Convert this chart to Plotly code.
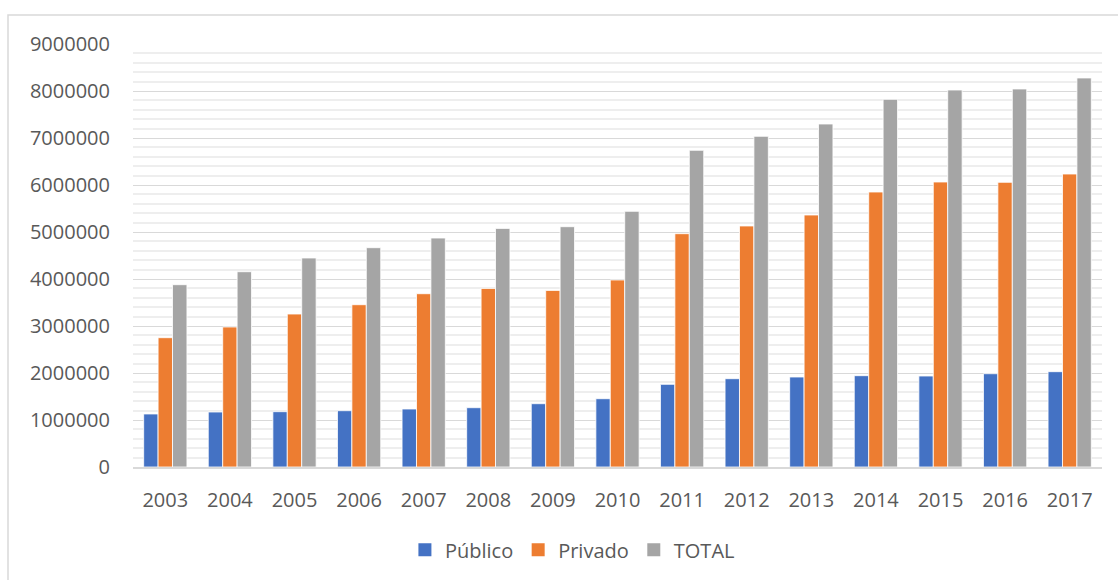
import plotly.graph_objects as go

years = ["2003", "2004", "2005", "2006", "2007", "2008", "2009", "2010",
         "2011", "2012", "2013", "2014", "2015", "2016", "2017"]
publico = [1128000, 1170000, 1177000, 1198000, 1234000, 1262000, 1347000, 1453000,
           1759000, 1879000, 1915000, 1943000, 1936000, 1985000, 2028000]
privado = [2751000, 2979000, 3255000, 3453000, 3687000, 3800000, 3757000, 3979000,
           4964000, 5128000, 5362000, 5851000, 6064000, 6057000, 6234000]
total = [3879000, 4155000, 4447000, 4666000, 4872000, 5077000, 5113000, 5440000,
         6738000, 7036000, 7298000, 7823000, 8021000, 8043000, 8277000]

series = [("Público", publico, "#4472C4"),
          ("Privado", privado, "#ED7D31"),
          ("TOTAL", total, "#A5A5A5")]

fig = go.Figure()
for name, vals, col in series:
    fig.add_trace(go.Bar(x=years, y=vals, name=name, marker_color=col,
                         marker_line_color="white", marker_line_width=0.8,
                         showlegend=False))
# legend entries with larger square swatches
for name, vals, col in series:
    fig.add_trace(go.Scatter(x=[None], y=[None], mode="markers", name=name,
                             marker=dict(symbol="square", size=13, color=col)))

FONT = "Open Sans"
fig.update_layout(
    width=1118, height=580,
    margin=dict(l=133, r=16, t=44, b=113),
    paper_bgcolor="white", plot_bgcolor="white",
    barmode="group", bargap=0.33, bargroupgap=0,
    font=dict(family=FONT, size=20, color="#595959"),
    showlegend=True,
    legend=dict(orientation="h", xref="container", yref="container",
                x=0.512, y=0.052, xanchor="center", yanchor="middle",
                font=dict(family=FONT, size=20, color="#595959"),
                itemwidth=30, traceorder="normal"),
    xaxis=dict(showgrid=False, showline=True, linecolor="#d9d9d9", linewidth=2,
               ticks="", ticklabelstandoff=14,
               tickfont=dict(family=FONT, size=20, color="#595959")),
    yaxis=dict(range=[0, 9000000], dtick=1000000, tickformat="d",
               showgrid=True, gridcolor="#d9d9d9", gridwidth=1.3,
               minor=dict(dtick=200000, showgrid=True, gridcolor="#eeeeee", gridwidth=1.5),
               zeroline=False, showline=False, ticks="", ticklabelstandoff=22,
               tickfont=dict(family=FONT, size=20, color="#595959")),
    shapes=[dict(type="rect", xref="paper", yref="paper",
                 x0=(8 - 133) / 969, x1=(1130 - 133) / 969,
                 y0=(467 - 600) / 423, y1=(467 - 15) / 423,
                 line=dict(color="#d9d9d9", width=1.5), fillcolor="rgba(0,0,0,0)",
                 layer="below")],
)

fig.write_html("out.html")
